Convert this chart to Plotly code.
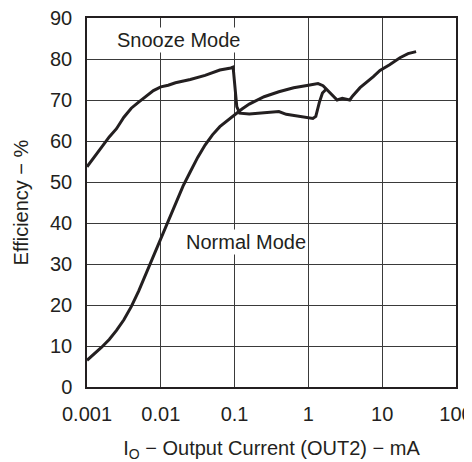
import plotly.graph_objects as go

# Snooze mode curve (output current in mA, efficiency in %)
snooze_current = [0.001, 0.00126, 0.00158, 0.002, 0.00251, 0.00316, 0.00398, 0.00501,
                  0.00631, 0.00794, 0.01, 0.0126, 0.0158, 0.0251, 0.0398, 0.0631,
                  0.0891, 0.0955, 0.107, 0.117, 0.158, 0.316, 0.398, 0.501, 0.794,
                  1.0, 1.15, 1.26, 1.41, 1.55, 1.78]
snooze_eff = [53.7, 56.0, 58.5, 61.0, 63.0, 65.8, 68.0, 69.5,
              71.0, 72.3, 73.2, 73.6, 74.2, 75.0, 76.0, 77.3,
              77.8, 78.0, 68.4, 66.8, 66.6, 67.0, 67.2, 66.5, 66.0,
              65.7, 65.5, 66.0, 69.5, 71.7, 72.8]

# Normal mode curve
normal_current = [0.001, 0.00126, 0.00158, 0.002, 0.00251, 0.00316, 0.00398, 0.00501,
                  0.00631, 0.00794, 0.01, 0.0126, 0.0158, 0.02, 0.0251, 0.0316, 0.0398,
                  0.0501, 0.0631, 0.0794, 0.1, 0.126, 0.158, 0.251, 0.398, 0.631, 1.0,
                  1.35, 1.58, 1.78, 2.19, 2.45, 2.88, 3.31, 3.63, 3.98, 5.01, 7.59,
                  9.33, 12.6, 17.4, 22.4, 28.8]
normal_eff = [6.5, 8.0, 9.7, 11.6, 13.8, 16.4, 19.6, 23.4,
              27.7, 32.0, 36.0, 40.5, 45.0, 49.0, 52.5, 56.0, 59.0,
              61.5, 63.5, 65.0, 66.5, 67.8, 69.0, 70.8, 72.0, 73.0, 73.6,
              74.0, 73.5, 72.6, 71.0, 70.0, 70.4, 70.2, 70.0, 71.0, 73.0, 75.7,
              77.2, 78.6, 80.3, 81.3, 81.8]

x_tickvals = [0.001, 0.01, 0.1, 1, 10, 100]
x_ticktext = ["0.001", "0.01", "0.1", "1", "10", "100"]
y_tickvals = [0, 10, 20, 30, 40, 50, 60, 70, 80, 90]

font = dict(family="Liberation Sans, Arial, sans-serif", size=20, color="#231f20")

fig = go.Figure()
fig.add_trace(go.Scatter(x=snooze_current, y=snooze_eff, mode="lines",
                         line=dict(color="#231f20", width=3), showlegend=False))
fig.add_trace(go.Scatter(x=normal_current, y=normal_eff, mode="lines",
                         line=dict(color="#231f20", width=3), showlegend=False))

fig.add_annotation(x=-1.759, y=84.7, xref="x", yref="y", text="Snooze Mode",
                   showarrow=False, bgcolor="white", font=font)
fig.add_annotation(x=-0.847, y=35.3, xref="x", yref="y", text="Normal Mode",
                   showarrow=False, bgcolor="white", font=font)

# page body has an 8px default margin, so margins are shifted to compensate
fig.update_layout(
    width=472, height=462,
    margin=dict(l=79, r=24, t=10, b=83),
    paper_bgcolor="white", plot_bgcolor="white",
    font=font,
)
fig.update_xaxes(type="log", range=[-3, 2], tickvals=x_tickvals, ticktext=x_ticktext,
                 showgrid=True, gridcolor="#3a3a3a", gridwidth=1.3,
                 showline=True, linecolor="#231f20", linewidth=1.5, mirror=True,
                 ticks="", ticklabelstandoff=8, zeroline=False, automargin=False,
                 ticklabeloverflow="allow",
                 title=dict(text="I<sub>O</sub> − Output Current (OUT2) − mA", standoff=17,
                            font=font))
fig.update_yaxes(range=[0, 90], tickvals=y_tickvals,
                 showgrid=True, gridcolor="#3a3a3a", gridwidth=1.3,
                 showline=True, linecolor="#231f20", linewidth=1.5, mirror=True,
                 ticks="", ticklabelstandoff=9, zeroline=False, automargin=False,
                 ticklabeloverflow="allow",
                 title=dict(text="Efficiency − %", standoff=16, font=font))

fig.write_html("out.html")
